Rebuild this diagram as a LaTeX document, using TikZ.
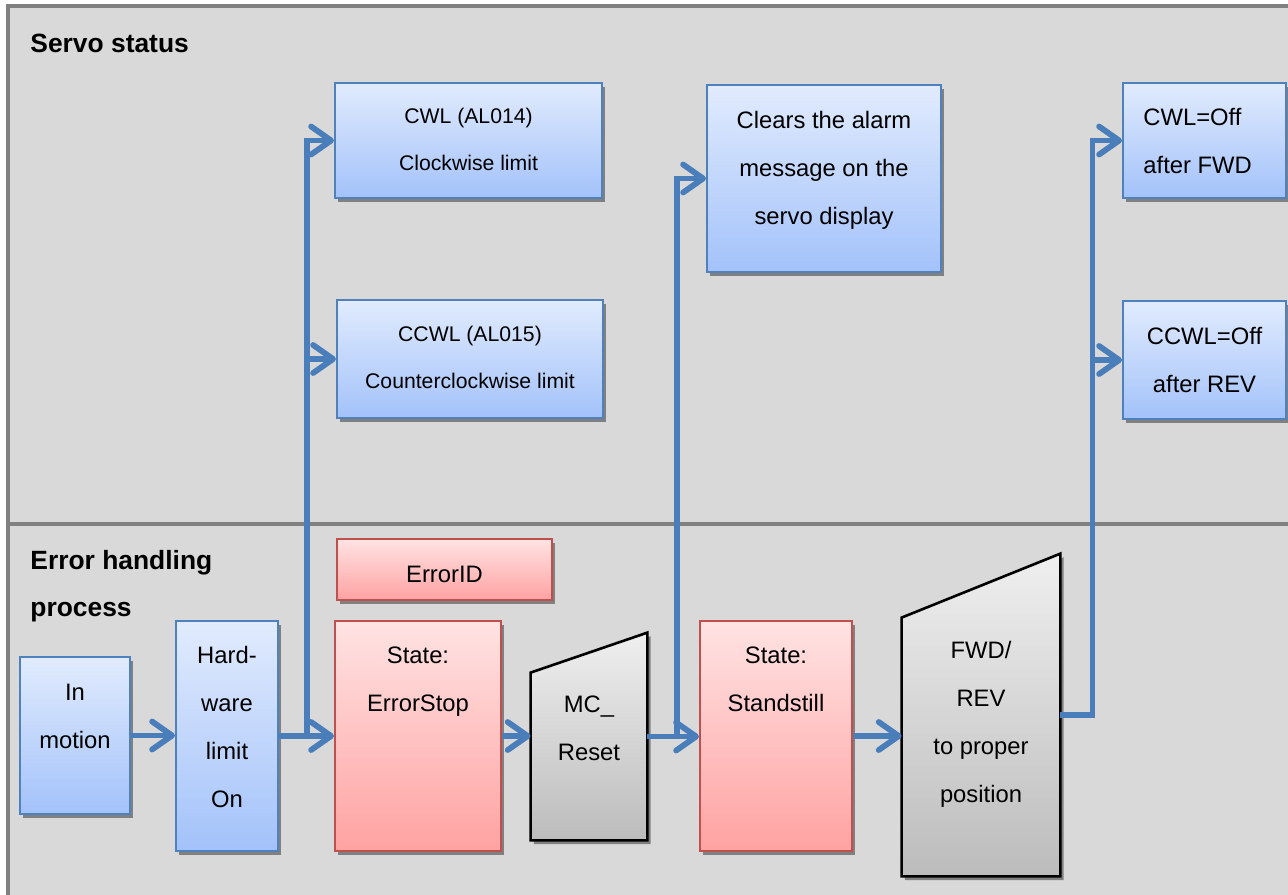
\documentclass[tikz,border=0pt]{standalone}
\usepackage{fontspec}
\setmainfont{Liberation Sans}
\usetikzlibrary{arrows.meta, shadows, calc}

\definecolor{panelgray}{HTML}{D9D9D9}
\definecolor{framegray}{HTML}{808080}
\definecolor{flowblue}{HTML}{4A7EBB}
\definecolor{blueedge}{HTML}{4F81BD}
\definecolor{bluetop}{HTML}{E1EBFD}
\definecolor{bluebot}{HTML}{A3C2FA}
\definecolor{rededge}{HTML}{C0504D}
\definecolor{redtop}{HTML}{FFE3E3}
\definecolor{redbot}{HTML}{FFA2A2}
\definecolor{graytop}{HTML}{EFEFEF}
\definecolor{graybot}{HTML}{BCBCBC}

\begin{document}
\begin{tikzpicture}[x=0.5pt, y=-0.5pt,
    shadowed/.style={drop shadow={shadow xshift=1.6pt, shadow yshift=-1.8pt, fill=framegray, opacity=1}},
    bluebox/.style={draw=blueedge, line width=1pt, top color=bluetop, bottom color=bluebot, shadowed},
    redbox/.style={draw=rededge, line width=1pt, top color=redtop, bottom color=redbot, shadowed},
    manual/.style={draw=black, line width=1.3pt, top color=graytop, bottom color=graybot, shadowed},
    hidden/.style={draw=none},
    boxdim/.style 2 args={minimum width=#1*0.5pt, minimum height=#2*0.5pt, inner sep=0pt},
    txt/.style={align=center, inner sep=0pt, font=\fontsize{11.9}{24}\selectfont},
    smalltxt/.style={txt, font=\fontsize{10.6}{23.5}\selectfont},
    title/.style={align=left, inner sep=0pt, anchor=west, font=\fontsize{13.2}{23.5}\selectfont\bfseries},
    flow/.style={draw=flowblue, line width=2.9pt, -{Straight Barb[length=10pt, width=14pt, round]}}
]

        % Page size
        \useasboundingbox (0,0) rectangle (1288,894);
        \clip (0,0) rectangle (1288,894);

        % Lanes
        \draw[fill=panelgray, draw=framegray, line width=2pt] (8,6) rectangle (1320,930);
        \draw[framegray, line width=2pt] (8,524) -- (1320,524);

        \node[title] (servo) at (30,43) {Servo status};
        \node[title] (errproc) at (30,586) {Error handling\\process};

        % Servo status boxes
        \node[bluebox, boxdim={267}{115}] (cwl) at (468.5,140.5) {};
        \node[bluebox, boxdim={266}{118}] (ccwl) at (470,359) {};
        \node[bluebox, boxdim={234}{187}] (clears) at (824,178.5) {};
        \node[bluebox, boxdim={163}{115}] (cwloff) at (1204.5,140.5) {};
        \node[bluebox, boxdim={163}{118}] (ccwloff) at (1204.5,360) {};

        % Error handling boxes
        \node[redbox, boxdim={215}{61}] (errid) at (444.5,569.5) {};
        \node[bluebox, boxdim={110}{157}] (inmotion) at (75,735.5) {};
        \node[bluebox, boxdim={102}{230}] (hw) at (227,736) {};
        \node[redbox, boxdim={166}{230}] (stop) at (418,736) {};
        \node[redbox, boxdim={152}{230}] (stand) at (776,736) {};

        % Manual operations (slanted top)
        \node[hidden, boxdim={116}{207}] (reset) at (589,736.5) {};
        \draw[manual] (reset.south west) -- (reset.south east) -- (reset.north east)
            -- ([yshift=-20pt]reset.north west) -- cycle;
        \node[hidden, boxdim={158}{322}] (fwd) at (981,715) {};
        \draw[manual] (fwd.south west) -- (fwd.south east) -- (fwd.north east)
            -- ([yshift=-32pt]fwd.north west) -- cycle;

        % Flow
        \draw[flow] (inmotion.east) -- (inmotion.east -| hw.west);
        \draw[flow] (hw.east) -- (stop.west);
        \coordinate (hwturn) at (307,736);
        \draw[flow] (hwturn) |- (cwl.west);
        \draw[flow] (hwturn |- ccwl.west) -- (ccwl.west);

        \draw[flow] (stop.east) -- (stop.east -| reset.west);
        \draw[flow] (reset.east) -- (reset.east -| stand.west);
        \coordinate (resetturn) at (677,736);
        \draw[flow] (resetturn) |- (clears.west);

        \draw[flow] (stand.east) -- (stand.east -| fwd.west);
        \draw[flow] (fwd.east) -- ++(32,0) coordinate (fwdturn) |- (cwloff.west);
        \draw[flow] (fwdturn |- ccwloff.west) -- (ccwloff.west);

        % Texts
        \node[smalltxt, below=12.8pt] (cwl-txt) at (cwl.north) {CWL (AL014)\\Clockwise limit};
        \node[smalltxt, below=13.5pt] (ccwl-txt) at (ccwl.north) {CCWL (AL015)\\Counterclockwise limit};
        \node[txt, below=13.5pt] (clears-txt) at (clears.north) {Clears the alarm\\message on the\\servo display};
        \node[txt, align=left, anchor=north west] (cwloff-txt) at ([xshift=10.5pt, yshift=-13pt]cwloff.north west) {CWL=Off\\after FWD};
        \node[txt, below=13.5pt] (ccwloff-txt) at (ccwloff.north) {CCWL=Off\\after REV};
        \node[txt, below=14pt] (errid-txt) at (errid.north) {ErrorID};
        \node[txt, below=14pt] (inmotion-txt) at (inmotion.north) {In\\motion};
        \node[txt, below=13pt] (hw-txt) at (hw.north) {Hard-\\ware\\limit\\On};
        \node[txt, below=13pt] (stop-txt) at (stop.north) {State:\\ErrorStop};
        \node[txt, below=31.5pt] (reset-txt) at (reset.north) {MC\_\\Reset};
        \node[txt, below=13pt] (stand-txt) at (stand.north) {State:\\Standstill};
        \node[txt, below=43.5pt] (fwd-txt) at (fwd.north) {FWD/\\REV\\to proper\\position};

    \end{tikzpicture}
\end{document}
